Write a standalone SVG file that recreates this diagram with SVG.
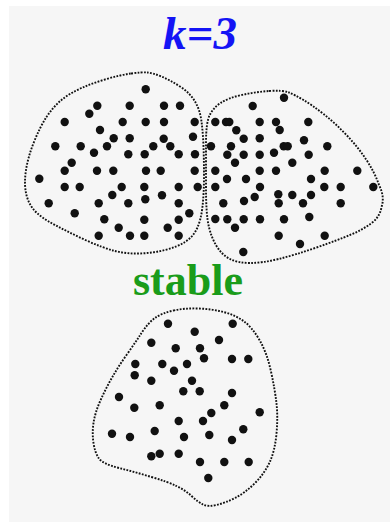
<svg xmlns="http://www.w3.org/2000/svg" width="390" height="522" viewBox="0 0 390 522">
<style>
.bd{fill:none;stroke:#111;stroke-width:1.9;stroke-dasharray:1.8 1.4}
.d circle{fill:#111}
.t{font-family:"Liberation Serif","Times New Roman",serif;font-weight:bold;text-anchor:middle}
</style>
<rect width="390" height="522" fill="#fff"/>
<rect x="9" y="6" width="381" height="516" fill="#f6f6f6"/>
<text class="t" x="200" y="49" font-size="47" font-style="italic" fill="#1414f5">k=3</text>
<text class="t" x="188" y="295" font-size="44" fill="#1a9c1a">stable</text>
<g id="cluster-left">
<path class="bd" d="M131,73.5 Q142,72 147.5,72.5 Q153,73 161.5,76.5 Q170,80 180,86.5 Q190,93 195,101.5 Q200,110 201.5,121.5 Q203,133 203.5,146.5 Q204,160 204,176.5 Q204,193 202.5,206.5 Q201,220 197,228.5 Q193,237 185,242 Q177,247 165,250 Q153,253 140,253.5 Q127,254 115,251 Q103,248 86.5,240.5 Q70,233 55,225 Q40,217 34,210 Q28,203 26,193 Q24,183 26,170 Q28,157 34,142 Q40,127 46.5,117 Q53,107 61.5,100 Q70,93 81.5,88 Q93,83 106.5,79 Q120,75 131,73.5 Z"/>
<g class="d">
<circle cx="145.7" cy="89.3" r="4.2"/><circle cx="97.3" cy="105.7" r="4.2"/><circle cx="129.7" cy="105.7" r="4.2"/><circle cx="164" cy="105.7" r="4.2"/><circle cx="180" cy="105.7" r="4.2"/><circle cx="89.3" cy="113.7" r="4.2"/><circle cx="64.7" cy="122" r="4.2"/><circle cx="122.7" cy="122" r="4.2"/><circle cx="145.7" cy="122" r="4.2"/><circle cx="164" cy="122" r="4.2"/><circle cx="194.7" cy="122" r="4.2"/><circle cx="100" cy="130" r="4.2"/><circle cx="113.7" cy="138.3" r="4.2"/><circle cx="129.7" cy="138.3" r="4.2"/><circle cx="163.7" cy="138.7" r="4.2"/><circle cx="193" cy="136.7" r="4.2"/><circle cx="55.3" cy="146.3" r="4.2"/><circle cx="80.7" cy="146.3" r="4.2"/><circle cx="107" cy="146.3" r="4.2"/><circle cx="153.3" cy="146.3" r="4.2"/><circle cx="170.3" cy="146.3" r="4.2"/><circle cx="94" cy="152.7" r="4.2"/><circle cx="128.3" cy="154.3" r="4.2"/><circle cx="144.7" cy="154.3" r="4.2"/><circle cx="178.7" cy="154.3" r="4.2"/><circle cx="195" cy="154.3" r="4.2"/><circle cx="71.7" cy="162.7" r="4.2"/><circle cx="64.7" cy="170.7" r="4.2"/><circle cx="97" cy="170.7" r="4.2"/><circle cx="113.3" cy="170.7" r="4.2"/><circle cx="146" cy="170.7" r="4.2"/><circle cx="160.7" cy="170.7" r="4.2"/><circle cx="194.7" cy="170.7" r="4.2"/><circle cx="39.3" cy="178.7" r="4.2"/><circle cx="64.7" cy="187" r="4.2"/><circle cx="79.7" cy="187" r="4.2"/><circle cx="121.7" cy="187" r="4.2"/><circle cx="144.3" cy="187" r="4.2"/><circle cx="178.7" cy="187" r="4.2"/><circle cx="197.7" cy="187" r="4.2"/><circle cx="112.3" cy="195" r="4.2"/><circle cx="162" cy="195.3" r="4.2"/><circle cx="145.3" cy="199.3" r="4.2"/><circle cx="48.7" cy="203.3" r="4.2"/><circle cx="98.7" cy="203.3" r="4.2"/><circle cx="128.3" cy="203.3" r="4.2"/><circle cx="178.7" cy="203.3" r="4.2"/><circle cx="74.7" cy="213.3" r="4.2"/><circle cx="189.3" cy="213.3" r="4.2"/><circle cx="104.3" cy="219.3" r="4.2"/><circle cx="144.3" cy="219.7" r="4.2"/><circle cx="178.7" cy="219.7" r="4.2"/><circle cx="118.7" cy="227.7" r="4.2"/><circle cx="167.7" cy="227.7" r="4.2"/><circle cx="98.7" cy="235.7" r="4.2"/><circle cx="130" cy="235.7" r="4.2"/><circle cx="144.3" cy="235.7" r="4.2"/><circle cx="178.7" cy="235.7" r="4.2"/>
</g>
</g>
<g id="cluster-right">
<path class="bd" d="M269,91 Q283,90 289,92.5 Q295,95 303.5,100 Q312,105 323.5,114 Q335,123 346.5,135 Q358,147 366.5,160 Q375,173 379,185 Q385,197 381.5,207 Q380,217 371,223.5 Q362,230 350,235 Q338,240 316.5,247.5 Q295,255 278.5,259 Q262,263 250,263 Q238,263 230,259 Q222,255 216.5,246 Q211,237 208.5,225 Q206,213 206,188 Q206,163 206,143 Q206,123 209.5,115.5 Q213,108 220.5,103 Q228,98 241.5,95 Q255,92 269,91 Z"/>
<g class="d">
<circle cx="284" cy="97.7" r="4.2"/><circle cx="252.7" cy="106" r="4.2"/><circle cx="215.3" cy="122" r="4.2"/><circle cx="226" cy="122" r="4.2"/><circle cx="229.3" cy="122" r="4.2"/><circle cx="259.7" cy="122" r="4.2"/><circle cx="276" cy="122" r="4.2"/><circle cx="308.3" cy="122" r="4.2"/><circle cx="236.3" cy="130.3" r="4.2"/><circle cx="279.7" cy="130" r="4.2"/><circle cx="243.7" cy="138.7" r="4.2"/><circle cx="259.7" cy="138.3" r="4.2"/><circle cx="304" cy="140.3" r="4.2"/><circle cx="211" cy="146.3" r="4.2"/><circle cx="231" cy="146.3" r="4.2"/><circle cx="283.7" cy="146.3" r="4.2"/><circle cx="287.7" cy="146.3" r="4.2"/><circle cx="327.3" cy="146.3" r="4.2"/><circle cx="227.3" cy="154.7" r="4.2"/><circle cx="243.7" cy="154.7" r="4.2"/><circle cx="259.7" cy="154.7" r="4.2"/><circle cx="274" cy="152.7" r="4.2"/><circle cx="308.7" cy="154.7" r="4.2"/><circle cx="235" cy="162.7" r="4.2"/><circle cx="292.3" cy="162.7" r="4.2"/><circle cx="215.3" cy="170.7" r="4.2"/><circle cx="259.7" cy="170.7" r="4.2"/><circle cx="276" cy="170.7" r="4.2"/><circle cx="324.7" cy="170.7" r="4.2"/><circle cx="357.3" cy="170.7" r="4.2"/><circle cx="227" cy="179" r="4.2"/><circle cx="246" cy="179" r="4.2"/><circle cx="311" cy="179" r="4.2"/><circle cx="215.3" cy="187" r="4.2"/><circle cx="260" cy="187" r="4.2"/><circle cx="324.3" cy="187" r="4.2"/><circle cx="340.7" cy="187" r="4.2"/><circle cx="373.3" cy="187" r="4.2"/><circle cx="254.7" cy="197" r="4.2"/><circle cx="278.3" cy="194.3" r="4.2"/><circle cx="292.3" cy="195" r="4.2"/><circle cx="311" cy="195" r="4.2"/><circle cx="223.3" cy="203.3" r="4.2"/><circle cx="244" cy="201" r="4.2"/><circle cx="278.7" cy="203.3" r="4.2"/><circle cx="303" cy="203.3" r="4.2"/><circle cx="340.7" cy="203.3" r="4.2"/><circle cx="215.3" cy="219" r="4.2"/><circle cx="227.3" cy="219.3" r="4.2"/><circle cx="243.7" cy="219.3" r="4.2"/><circle cx="260" cy="219.3" r="4.2"/><circle cx="284" cy="219.3" r="4.2"/><circle cx="309.3" cy="217" r="4.2"/><circle cx="235" cy="227.7" r="4.2"/><circle cx="278.7" cy="235.7" r="4.2"/><circle cx="324.7" cy="235.7" r="4.2"/><circle cx="300" cy="244" r="4.2"/><circle cx="243.3" cy="252" r="4.2"/>
</g>
</g>
<g id="cluster-bottom">
<path class="bd" d="M173.5,310.5 Q185,308 198.5,308.5 Q212,309 223.5,312 Q235,315 243.5,321 Q252,327 259.5,340 Q267,353 271,371.5 Q275,390 276.5,403.5 Q278,417 276.5,433.5 Q275,450 270,461.5 Q265,473 255,483 Q245,493 235,498 Q225,503 216.5,505 Q208,507 203,504.5 Q198,502 191.5,496 Q185,490 176.5,486 Q168,482 151.5,477 Q135,472 119,468 Q103,464 99,458.5 Q95,453 93.5,443 Q92,433 93.5,423 Q95,413 100,401.5 Q105,390 111.5,378.5 Q118,367 126.5,355 Q135,343 141.5,333 Q148,323 155,318 Q162,313 173.5,310.5 Z"/>
<g class="d">
<circle cx="168" cy="323.7" r="4.2"/><circle cx="232.7" cy="323.7" r="4.2"/><circle cx="194.7" cy="331.7" r="4.2"/><circle cx="151.3" cy="342.7" r="4.2"/><circle cx="219" cy="340" r="4.2"/><circle cx="175.7" cy="348.3" r="4.2"/><circle cx="200" cy="348.3" r="4.2"/><circle cx="204" cy="358.3" r="4.2"/><circle cx="232" cy="359" r="4.2"/><circle cx="248.3" cy="359" r="4.2"/><circle cx="135.3" cy="364" r="4.2"/><circle cx="162.3" cy="364" r="4.2"/><circle cx="187" cy="364" r="4.2"/><circle cx="174" cy="370.7" r="4.2"/><circle cx="134.7" cy="375.3" r="4.2"/><circle cx="151.3" cy="380.7" r="4.2"/><circle cx="192" cy="380.7" r="4.2"/><circle cx="183.3" cy="391.3" r="4.2"/><circle cx="199.7" cy="391.3" r="4.2"/><circle cx="232" cy="393" r="4.2"/><circle cx="119" cy="397" r="4.2"/><circle cx="134.3" cy="407.7" r="4.2"/><circle cx="159.7" cy="405.3" r="4.2"/><circle cx="224.3" cy="405.3" r="4.2"/><circle cx="211.3" cy="413" r="4.2"/><circle cx="259.7" cy="412.3" r="4.2"/><circle cx="178.7" cy="421" r="4.2"/><circle cx="203" cy="421" r="4.2"/><circle cx="243.3" cy="429.3" r="4.2"/><circle cx="112" cy="433.7" r="4.2"/><circle cx="130" cy="437" r="4.2"/><circle cx="154.7" cy="431" r="4.2"/><circle cx="184" cy="437" r="4.2"/><circle cx="209.3" cy="435" r="4.2"/><circle cx="232" cy="440" r="4.2"/><circle cx="151.3" cy="456.3" r="4.2"/><circle cx="159.7" cy="453.7" r="4.2"/><circle cx="178.7" cy="453.7" r="4.2"/><circle cx="200" cy="462" r="4.2"/><circle cx="224.3" cy="462" r="4.2"/><circle cx="248.7" cy="462" r="4.2"/><circle cx="208.3" cy="478" r="4.2"/>
</g>
</g>
</svg>
